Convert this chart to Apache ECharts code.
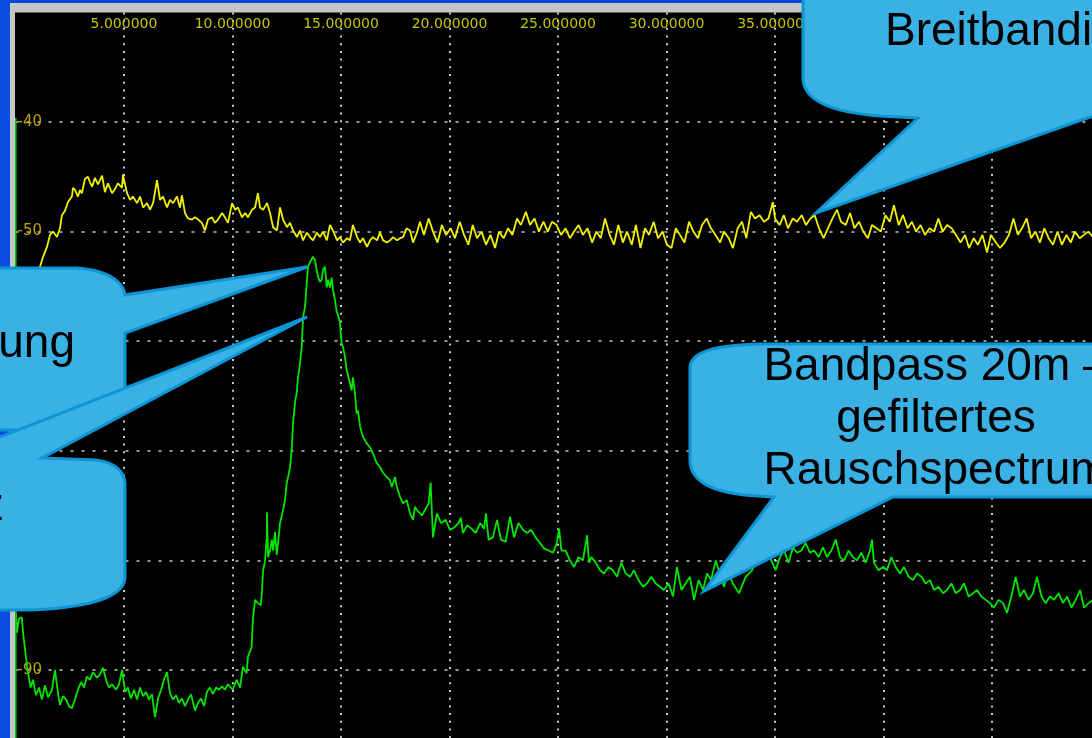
<!DOCTYPE html>
<html>
<head>
<meta charset="utf-8">
<script src="https://cdn.jsdelivr.net/npm/echarts@6/dist/echarts.min.js"></script>
<style>
html,body{margin:0;padding:0;background:#000;}
#chart{width:1092px;height:738px;}
</style>
</head>
<body>
<div id="chart"></div>
<script>
// Frequency axis (MHz) and level axis (dB) settings
const freqTicks = [0, 5, 10, 15, 20, 25, 30, 35, 40, 45, 50];
const levelTicks = [-100, -90, -80, -70, -60, -50, -40, -30];

// Broadband noise spectrum (yellow) [MHz, dB]
const broadbandTrace = [
[0.02,-59.0],[0.44,-56.2],[0.81,-54.4],[1.13,-53.2],[1.27,-52.3],[1.45,-51.4],[1.59,-50.3],[1.73,-50.0],[1.91,-50.5],[2.05,-49.7],
[2.14,-48.5],[2.28,-48.1],[2.42,-47.3],[2.60,-46.8],[2.65,-46.0],[2.74,-46.2],[2.88,-46.8],[2.97,-46.2],[3.06,-46.5],[3.20,-45.2],
[3.34,-45.0],[3.43,-45.5],[3.53,-45.9],[3.66,-45.1],[3.80,-45.7],[3.99,-44.9],[4.12,-46.4],[4.26,-45.6],[4.45,-46.5],[4.59,-46.1],
[4.72,-45.6],[4.91,-46.0],[4.95,-44.8],[5.14,-46.5],[5.28,-47.1],[5.41,-46.8],[5.60,-47.4],[5.74,-46.8],[5.88,-47.8],[6.06,-47.4],
[6.20,-48.0],[6.34,-47.4],[6.52,-45.3],[6.66,-47.1],[6.80,-46.8],[6.98,-47.8],[7.12,-47.1],[7.26,-47.4],[7.44,-46.8],[7.58,-47.8],
[7.67,-46.7],[7.81,-48.3],[7.95,-48.8],[8.13,-48.9],[8.27,-48.7],[8.41,-48.9],[8.59,-49.2],[8.73,-49.9],[8.87,-48.9],[9.06,-48.7],
[9.19,-49.2],[9.33,-48.9],[9.52,-48.3],[9.65,-48.7],[9.79,-49.2],[9.98,-47.4],[10.12,-48.0],[10.25,-47.8],[10.44,-48.7],[10.58,-48.3],
[10.71,-48.7],[10.90,-48.0],[11.04,-47.8],[11.17,-46.5],[11.27,-47.8],[11.41,-48.0],[11.59,-47.4],[11.73,-48.3],[11.87,-49.6],[12.05,-49.9],
[12.19,-47.8],[12.33,-48.9],[12.51,-49.6],[12.65,-49.2],[12.79,-49.9],[12.97,-50.5],[13.11,-49.9],[13.25,-50.8],[13.43,-50.1],[13.57,-50.5],
[13.71,-50.8],[13.89,-50.1],[14.03,-50.5],[14.17,-50.0],[14.35,-50.8],[14.49,-49.4],[14.63,-49.9],[14.82,-50.8],[14.95,-50.5],[15.09,-51.0],
[15.28,-50.6],[15.41,-50.8],[15.55,-49.4],[15.74,-50.5],[15.88,-51.0],[16.01,-50.6],[16.20,-51.4],[16.34,-50.8],[16.47,-50.5],[16.66,-50.8],
[16.80,-50.1],[16.94,-50.8],[17.12,-51.0],[17.26,-50.8],[17.40,-50.5],[17.58,-50.8],[17.72,-50.6],[17.86,-50.5],[18.02,-49.7],[18.18,-49.9],
[18.32,-51.0],[18.50,-50.1],[18.64,-49.1],[18.82,-50.3],[19.04,-48.8],[19.24,-50.0],[19.45,-51.0],[19.65,-49.4],[19.84,-50.3],[20.06,-49.7],
[20.25,-50.6],[20.47,-49.1],[20.67,-50.3],[20.87,-51.2],[21.07,-49.4],[21.27,-50.6],[21.48,-50.0],[21.68,-51.2],[21.89,-50.3],[22.10,-51.5],
[22.28,-50.0],[22.50,-50.6],[22.70,-49.7],[22.90,-50.3],[23.11,-48.8],[23.29,-49.4],[23.52,-48.2],[23.71,-49.4],[23.92,-48.8],[24.12,-50.0],
[24.33,-49.1],[24.53,-50.0],[24.72,-49.1],[24.94,-49.4],[25.14,-50.3],[25.35,-49.7],[25.55,-50.6],[25.74,-50.0],[25.95,-49.4],[26.15,-50.3],
[26.36,-49.7],[26.57,-51.0],[26.77,-50.0],[26.97,-50.6],[27.17,-48.8],[27.38,-50.3],[27.58,-51.2],[27.78,-49.4],[27.99,-51.0],[28.18,-50.0],
[28.40,-51.2],[28.59,-49.4],[28.80,-51.5],[29.01,-49.7],[29.19,-50.3],[29.41,-49.1],[29.61,-50.6],[29.82,-50.0],[30.02,-51.2],[30.23,-51.5],
[30.43,-49.7],[30.62,-50.3],[30.83,-51.0],[31.04,-49.1],[31.24,-50.0],[31.45,-50.6],[31.64,-49.4],[31.85,-48.8],[32.05,-49.7],[32.26,-50.3],
[32.47,-51.0],[32.65,-50.0],[32.87,-50.6],[33.06,-51.5],[33.28,-49.7],[33.48,-49.1],[33.68,-50.6],[33.89,-48.2],[34.08,-48.8],[34.29,-48.5],
[34.49,-49.1],[34.70,-48.8],[34.90,-47.3],[35.00,-48.8],[35.21,-49.4],[35.41,-48.5],[35.60,-49.7],[35.82,-48.8],[36.01,-49.1],[36.23,-48.5],
[36.43,-49.4],[36.63,-48.8],[36.83,-48.5],[37.03,-49.7],[37.24,-50.6],[37.44,-49.7],[37.65,-48.8],[37.86,-48.0],[38.04,-49.1],[38.26,-49.4],
[38.46,-48.3],[38.66,-49.7],[38.87,-49.1],[39.07,-50.0],[39.28,-50.6],[39.47,-49.4],[39.68,-49.7],[39.88,-50.0],[40.09,-48.5],[40.29,-49.1],
[40.48,-47.6],[40.70,-49.4],[40.90,-48.5],[41.11,-49.7],[41.31,-49.1],[41.50,-50.0],[41.71,-49.4],[41.91,-50.3],[42.12,-49.7],[42.33,-50.0],
[42.53,-48.8],[42.73,-50.0],[42.93,-49.4],[43.14,-49.7],[43.34,-50.3],[43.55,-51.0],[43.76,-50.3],[43.94,-51.5],[44.16,-50.6],[44.35,-51.2],
[44.56,-50.3],[44.77,-51.9],[44.95,-50.3],[45.18,-51.0],[45.37,-51.5],[45.58,-51.0],[45.78,-50.3],[45.99,-48.8],[46.19,-50.3],[46.38,-49.7],
[46.60,-48.8],[46.80,-50.6],[47.00,-50.0],[47.21,-51.0],[47.41,-49.7],[47.61,-50.6],[47.81,-51.2],[48.02,-50.0],[48.22,-51.2],[48.43,-50.3],
[48.63,-51.0],[48.82,-50.0],[49.04,-50.6],[49.24,-50.3],[49.44,-50.0],[49.70,-50.6]
];

// 20m bandpass filtered noise spectrum (green) [MHz, dB]
const bandpassTrace = [
[0.02,-84.8],[0.07,-86.6],[0.16,-85.3],[0.29,-85.2],[0.35,-86.6],[0.48,-88.8],[0.58,-90.3],[0.70,-91.6],[0.81,-90.9],[0.94,-92.3],
[1.08,-91.6],[1.22,-92.7],[1.36,-91.4],[1.50,-92.5],[1.68,-91.8],[1.82,-90.0],[1.96,-92.1],[2.05,-93.2],[2.19,-92.4],[2.33,-92.7],
[2.47,-93.3],[2.60,-93.5],[2.74,-92.7],[2.88,-91.8],[3.02,-91.1],[3.16,-91.6],[3.29,-90.6],[3.43,-90.9],[3.57,-90.2],[3.76,-90.7],
[3.89,-90.4],[4.03,-89.8],[4.17,-90.9],[4.31,-91.6],[4.45,-91.3],[4.63,-91.8],[4.77,-91.3],[4.91,-90.0],[5.05,-92.0],[5.18,-91.6],
[5.32,-92.6],[5.46,-91.8],[5.60,-92.7],[5.74,-91.6],[5.88,-92.4],[6.01,-92.0],[6.15,-92.7],[6.29,-92.2],[6.43,-94.3],[6.57,-92.6],
[6.71,-91.8],[6.84,-90.9],[6.98,-90.2],[7.12,-92.1],[7.26,-92.7],[7.40,-92.3],[7.53,-93.0],[7.67,-92.6],[7.81,-93.3],[7.95,-92.7],
[8.09,-92.2],[8.27,-93.7],[8.41,-93.0],[8.55,-92.6],[8.69,-93.3],[8.82,-92.0],[8.96,-91.6],[9.10,-92.2],[9.24,-91.6],[9.38,-91.8],
[9.52,-91.5],[9.65,-91.8],[9.79,-91.3],[10.01,-91.8],[10.19,-90.9],[10.35,-91.6],[10.48,-89.7],[10.65,-90.3],[10.71,-88.8],[10.88,-87.9],
[10.94,-85.4],[11.04,-83.6],[11.17,-83.9],[11.30,-84.1],[11.35,-83.0],[11.41,-80.9],[11.50,-80.0],[11.58,-77.9],[11.59,-75.6],[11.64,-79.7],
[11.73,-79.1],[11.81,-78.1],[11.87,-79.1],[11.96,-77.4],[12.04,-79.5],[12.10,-78.4],[12.19,-76.6],[12.33,-75.4],[12.42,-74.5],[12.50,-72.9],
[12.56,-72.4],[12.65,-71.5],[12.73,-69.9],[12.79,-67.5],[12.88,-65.6],[12.96,-64.7],[13.02,-63.3],[13.11,-62.0],[13.19,-60.5],[13.25,-57.8],
[13.34,-56.9],[13.42,-54.7],[13.48,-53.2],[13.57,-52.8],[13.71,-52.3],[13.80,-52.6],[13.88,-53.5],[13.94,-54.1],[14.03,-54.6],[14.11,-54.4],
[14.17,-53.5],[14.26,-53.2],[14.34,-55.1],[14.40,-54.4],[14.49,-55.1],[14.57,-54.2],[14.63,-55.3],[14.72,-56.2],[14.80,-57.3],[14.86,-57.6],
[14.95,-58.3],[15.03,-60.2],[15.09,-60.5],[15.18,-61.4],[15.26,-62.6],[15.41,-63.8],[15.49,-64.5],[15.55,-63.3],[15.64,-64.7],[15.72,-66.6],
[15.78,-66.3],[15.88,-67.8],[16.01,-68.7],[16.18,-69.3],[16.34,-69.7],[16.47,-70.2],[16.64,-71.1],[16.80,-71.5],[16.94,-72.0],[17.11,-72.4],
[17.26,-72.7],[17.34,-73.3],[17.49,-72.4],[17.57,-73.3],[17.72,-74.2],[17.86,-74.8],[18.03,-74.5],[18.18,-75.7],[18.32,-76.3],[18.41,-75.1],
[18.49,-75.4],[18.73,-75.9],[19.04,-74.8],[19.13,-72.9],[19.24,-77.9],[19.42,-75.7],[19.61,-76.6],[19.82,-76.3],[20.02,-77.2],[20.21,-77.0],
[20.42,-76.6],[20.52,-76.1],[20.62,-77.5],[20.81,-76.8],[21.01,-77.1],[21.21,-77.5],[21.41,-76.6],[21.59,-77.1],[21.68,-75.7],[21.80,-78.1],
[22.00,-77.9],[22.19,-76.3],[22.37,-78.1],[22.59,-78.3],[22.79,-76.0],[22.97,-77.9],[23.18,-76.6],[23.39,-77.2],[23.57,-77.5],[23.76,-77.2],
[23.97,-77.9],[24.17,-78.4],[24.35,-78.9],[24.57,-79.1],[24.77,-79.3],[24.95,-78.4],[25.05,-77.1],[25.16,-79.1],[25.35,-79.1],[25.55,-80.0],
[25.74,-80.6],[25.95,-79.7],[26.15,-80.0],[26.34,-77.7],[26.43,-80.2],[26.54,-79.7],[26.74,-80.2],[26.94,-80.9],[27.12,-81.2],[27.33,-80.6],
[27.53,-80.9],[27.72,-81.5],[27.92,-80.2],[28.12,-81.2],[28.32,-81.5],[28.50,-80.9],[28.71,-81.8],[28.92,-82.4],[29.10,-82.1],[29.30,-81.5],
[29.50,-82.1],[29.70,-82.4],[29.88,-82.7],[30.10,-82.1],[30.30,-83.3],[30.48,-80.6],[30.69,-82.7],[30.88,-82.1],[31.08,-81.5],[31.27,-83.6],
[31.48,-81.8],[31.68,-82.7],[31.87,-81.2],[32.05,-81.8],[32.27,-80.0],[32.47,-81.3],[32.65,-82.4],[32.83,-81.1],[33.06,-82.1],[33.34,-83.0],
[33.65,-81.5],[33.94,-80.9],[34.24,-79.7],[34.45,-80.2],[34.63,-79.5],[34.83,-80.0],[35.03,-80.9],[35.23,-79.7],[35.41,-79.1],[35.63,-80.2],
[35.83,-78.8],[36.01,-79.3],[36.22,-79.1],[36.41,-78.4],[36.61,-79.3],[36.80,-79.1],[37.01,-79.7],[37.21,-78.8],[37.40,-79.7],[37.60,-79.1],
[37.80,-78.1],[38.00,-79.7],[38.19,-80.0],[38.39,-79.1],[38.59,-79.7],[38.78,-80.0],[38.98,-79.3],[39.18,-80.2],[39.38,-79.1],[39.47,-78.1],
[39.56,-80.2],[39.77,-80.9],[39.98,-80.6],[40.16,-80.9],[40.36,-79.7],[40.56,-80.6],[40.76,-81.2],[40.94,-80.6],[41.16,-81.5],[41.36,-81.8],
[41.54,-81.2],[41.75,-81.5],[41.94,-82.1],[42.14,-81.8],[42.33,-82.7],[42.54,-82.4],[42.74,-83.0],[42.93,-82.7],[43.13,-82.1],[43.33,-83.0],
[43.53,-82.7],[43.71,-82.1],[43.92,-83.3],[44.13,-83.0],[44.31,-82.7],[44.51,-83.3],[44.71,-83.6],[44.91,-83.9],[45.09,-84.3],[45.30,-83.6],
[45.51,-83.9],[45.69,-84.8],[45.89,-83.3],[46.09,-81.5],[46.29,-83.3],[46.47,-82.7],[46.69,-83.6],[46.89,-83.0],[47.07,-81.5],[47.28,-83.3],
[47.47,-83.9],[47.67,-83.3],[47.86,-83.6],[48.07,-83.0],[48.27,-83.9],[48.46,-83.3],[48.66,-84.3],[48.86,-83.6],[49.06,-82.7],[49.24,-84.3],
[49.45,-83.9],[49.65,-83.6]
];

// Callout texts
const calloutBroadband = ['Breitbandiges Rauschen'];
const calloutBandpass = ['Bandpass 20m –', 'gefiltertes', 'Rauschspectrum'];
const calloutLeftTop = ['Einfügedämpfung'];
const calloutLeftBottom = ['Mittenfrequenz'];

const chart = echarts.init(document.getElementById('chart'), null, {renderer: 'canvas'});

const FILL = '#3ab1e5', STROKE = '#0c96d6', FONT = '46px "Liberation Sans", Arial, sans-serif';

// Outline builder: segments of ['L', x, y] or ['C', x1, y1, x2, y2, x, y]
function outline(start, segs) {
  const pts = [start.slice()];
  let cur = start.slice();
  segs.forEach(s => {
    if (s[0] === 'L') { cur = [s[1], s[2]]; pts.push(cur); }
    else {
      const p0 = cur, p1 = [s[1], s[2]], p2 = [s[3], s[4]], p3 = [s[5], s[6]];
      for (let i = 1; i <= 16; i++) {
        const t = i / 16, u = 1 - t;
        pts.push([
          u*u*u*p0[0] + 3*u*u*t*p1[0] + 3*u*t*t*p2[0] + t*t*t*p3[0],
          u*u*u*p0[1] + 3*u*u*t*p1[1] + 3*u*t*t*p2[1] + t*t*t*p3[1]
        ]);
      }
      cur = p3;
    }
  });
  return pts;
}
function calloutEl(points) {
  return {type: 'polygon', z: 110, silent: true, shape: {points: points},
    style: {fill: FILL, stroke: STROKE, lineWidth: 3, lineJoin: 'miter'}};
}
function textEl(str, x, y, align) {
  return {type: 'text', z: 120, silent: true,
    style: {text: str, x: x, y: y, font: FONT, fill: '#000', align: align, verticalAlign: 'middle'}};
}

const option = {
  animation: false,
  backgroundColor: '#000',
  grid: {left: 15.5, top: 12.4, right: -8.5, bottom: -41.6, outerBoundsMode: 'none'},
  xAxis: {
    type: 'value', position: 'top',
    min: freqTicks[0], max: freqTicks[freqTicks.length - 1], interval: 5,
    axisLine: {show: false}, axisTick: {show: false},
    axisLabel: {inside: true, margin: 5, showMinLabel: false, showMaxLabel: false,
      color: '#c4c400', fontFamily: 'DejaVu Sans', fontSize: 14,
      formatter: v => v.toFixed(6)},
    splitLine: {show: true, showMinLine: false, lineStyle: {color: '#c8c8c8', width: 2, type: [2, 5.7]}}
  },
  yAxis: {
    type: 'value',
    min: levelTicks[0], max: levelTicks[levelTicks.length - 1], interval: 10,
    axisLine: {show: false}, axisTick: {show: false},
    axisLabel: {inside: true, margin: 2, showMinLabel: false, showMaxLabel: false,
      color: '#bca400', fontFamily: 'DejaVu Sans', fontSize: 15},
    splitLine: {show: true, showMaxLine: false, lineStyle: {color: '#c8c8c8', width: 1.5, type: [3, 8]}}
  },
  series: [
    {type: 'line', name: 'Breitband', data: broadbandTrace, showSymbol: false, z: 3,
      lineStyle: {color: '#f2f200', width: 1.8}, itemStyle: {color: '#f2f200'}},
    {type: 'line', name: 'Bandpass 20m', data: bandpassTrace, showSymbol: false, z: 4,
      lineStyle: {color: '#00e400', width: 1.8}, itemStyle: {color: '#00e400'}}
  ],
  graphic: [
    // window frame
    {type: 'rect', z: 100, silent: true, shape: {x: 0, y: 0, width: 1092, height: 3}, style: {fill: '#0846e0'}},
    {type: 'rect', z: 100, silent: true, shape: {x: 10, y: 3, width: 1082, height: 9.4}, style: {fill: '#c6c6c6'}},
    {type: 'rect', z: 100, silent: true, shape: {x: 0, y: 0, width: 10, height: 738}, style: {fill: '#0a4ee0'}},
    {type: 'rect', z: 100, silent: true, shape: {x: 10, y: 3, width: 5, height: 735}, style: {fill: '#c6c6c6'}},
    {type: 'rect', z: 100, silent: true, shape: {x: 15, y: 118, width: 1.6, height: 620}, style: {fill: '#00c800'}},
    // left callouts
    calloutEl(outline([-20, 268], [['L', 77, 268], ['C', 105, 270, 123, 280, 125, 295], ['L', 307, 267], ['L', 125, 333],
      ['L', 125, 400], ['C', 122, 420, 90, 428, 40, 430], ['L', -20, 430]])),
    textEl(calloutLeftTop[0], 75, 344, 'right'),
    calloutEl(outline([-20, 437], [['L', 0, 437], ['L', 307, 317], ['L', 42, 458], ['L', 95, 460],
      ['C', 115, 462, 125, 472, 125, 485], ['L', 125, 578], ['C', 123, 600, 80, 608, 30, 610], ['L', -20, 610]])),
    textEl(calloutLeftBottom[0], 4, 507, 'right'),
    // broadband callout
    calloutEl(outline([803, -20], [['L', 803, 78], ['C', 803, 100, 830, 112, 880, 116], ['L', 918, 118], ['L', 816, 213],
      ['L', 1090, 117], ['L', 1110, 117], ['L', 1110, -20]])),
    textEl(calloutBroadband[0], 885, 32, 'left'),
    // bandpass callout
    calloutEl(outline([690, 368], [['C', 690, 352, 715, 345, 760, 344], ['L', 1110, 344], ['L', 1110, 497], ['L', 893, 497],
      ['L', 704, 591], ['L', 774, 497], ['L', 758, 496], ['C', 720, 494, 690, 485, 690, 460]])),
    textEl(calloutBandpass[0], 936, 367, 'center'),
    textEl(calloutBandpass[1], 936, 419, 'center'),
    textEl(calloutBandpass[2], 936, 471, 'center')
  ]
};
chart.setOption(option);
</script>
</body>
</html>
